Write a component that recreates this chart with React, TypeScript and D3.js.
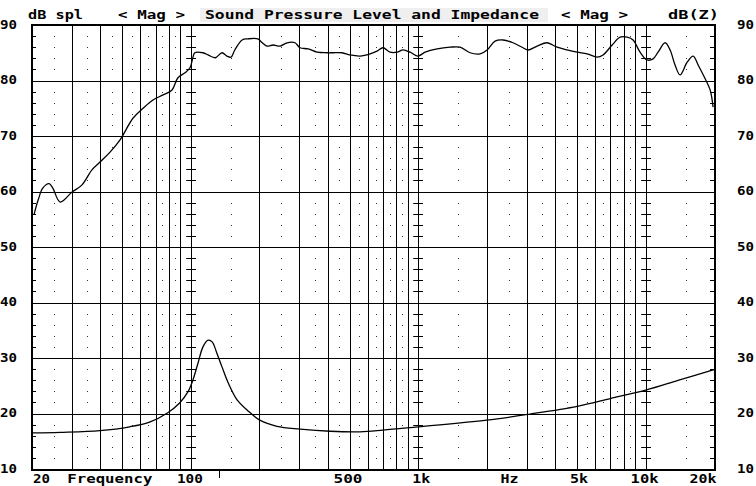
import React from "react";
import * as d3 from "d3";

const SPL_FREQ = [20.4, 21.3, 22.3, 23.8, 24.7, 26.6, 30.0, 33.2, 36.7, 39.8, 44.1, 48.8, 55.6, 61.6, 68.1, 75.4, 82.6, 87.7, 94.2, 99.1, 102, 104, 113, 119, 128, 137, 144, 150, 156, 168, 178, 197, 206, 216, 230, 247, 265, 287, 302, 328, 359, 397, 422, 462, 501, 555, 614, 659, 700, 752, 807, 857, 921, 998, 1072, 1211, 1381, 1528, 1691, 1871, 2009, 2178, 2361, 2612, 2891, 3041, 3333, 3689, 4083, 4518, 5000, 5534, 6125, 6503, 7129, 7729, 8298, 8813, 9460, 10160, 10790, 11350, 12190, 12820, 13480, 14180, 15240, 16190, 17030, 18290, 19230, 19820];
const SPL_DB = [55.8, 58.5, 60.6, 61.4, 60.6, 58.1, 59.9, 61.2, 63.9, 65.3, 67.1, 69.3, 73.2, 75.0, 76.5, 77.4, 78.3, 80.5, 81.4, 82.3, 84.1, 85.0, 85.0, 84.6, 84.1, 85.0, 84.4, 84.2, 85.5, 87.3, 87.5, 87.5, 86.8, 86.2, 86.4, 86.2, 86.8, 86.8, 85.9, 85.7, 85.1, 85.0, 85.0, 85.0, 84.6, 84.4, 84.8, 85.3, 85.9, 85.1, 85.1, 85.5, 85.1, 84.4, 85.1, 85.7, 86.0, 86.0, 85.0, 84.8, 85.5, 87.1, 87.3, 86.8, 85.9, 85.5, 86.2, 86.8, 86.0, 85.5, 85.1, 84.8, 84.2, 84.6, 86.4, 87.8, 87.8, 87.3, 85.1, 83.7, 83.9, 85.1, 86.8, 85.5, 82.8, 81.0, 83.3, 84.4, 82.8, 80.3, 78.3, 75.2];

const IMP_FREQ = [20.2, 26.6, 39.8, 53.8, 66.2, 78.8, 89.2, 97.0, 102, 107.5, 113, 119, 124, 130, 137, 146, 160, 177, 201, 239, 302, 410, 555, 700, 1000, 2000, 3100, 5000, 7000, 10000, 14000, 20000];
const IMP_DB = [16.5, 16.6, 16.9, 17.6, 18.5, 20.1, 21.9, 23.9, 26.0, 29.1, 32.0, 33.2, 32.9, 30.9, 28.4, 25.5, 22.4, 20.6, 18.8, 17.7, 17.2, 16.8, 16.7, 17.0, 17.6, 18.8, 19.9, 21.3, 22.7, 24.2, 26.0, 27.9];

const Y_TICKS = [10, 20, 30, 40, 50, 60, 70, 80, 90];
const MAJOR_FREQ = [30, 40, 50, 60, 70, 80, 90, 100, 200, 300, 400, 500, 600, 700, 800, 900, 1000, 2000, 3000, 4000, 5000, 6000, 7000, 8000, 9000, 10000];
const DECADE_FREQ = [100, 1000, 10000];
const DOT_FREQ = [25, 35, 45, 55, 65, 75, 85, 95, 150, 250, 350, 450, 550, 650, 750, 850, 950, 1500, 2500, 3500, 4500, 5500, 6500, 7500, 8500, 9500, 15000];
const BOTTOM_LABELS = ["20", "Frequency", "100", "500", "1k", "Hz", "5k", "10k", "20k"];
const BOTTOM_ANCHOR = [20, 44, 99, 491, 1030, 2520, 5100, 9900, 17900];
const MARKER_FREQ = 133;

const W = 756, H = 486;
const L = 32, R = 714, T = 25, B = 469;

export default function App() {
  const x = d3.scaleLog().domain([20, 20000]).range([L, R]);
  const y = d3.scaleLinear().domain([10, 90]).range([B, T]);
  const px = (v: number) => Math.round(v) + 0.5;

  const minor = d3.range(12, 90, 2).filter((v) => v % 10 !== 0);

  const line = d3
    .line<[number, number]>()
    .x((d) => x(d[0]))
    .y((d) => y(d[1]))
    .curve(d3.curveCatmullRom.alpha(0.5));

  const splPath = line(SPL_FREQ.map((f, i) => [f, SPL_DB[i]] as [number, number])) || "";
  const impPath = line(IMP_FREQ.map((f, i) => [f, IMP_DB[i]] as [number, number])) || "";

  const font = "'DejaVu Sans Mono', 'Liberation Mono', monospace";

  const header = [
    { t: "dB spl", x: 28, w: 55 },
    { t: "< Mag >", x: 118, w: 67 },
    { t: "Sound Pressure Level and Impedance", x: 205, w: 334 },
    { t: "< Mag >", x: 561, w: 67 },
    { t: "dB(Z)", x: 668, w: 51 },
  ];
  const bottomW = [17, 85, 26, 29, 18, 18, 18, 28, 27];

  return (
    <svg width={W} height={H} style={{ position: "absolute", left: 0, top: 0, background: "#fff" }} shapeRendering="crispEdges">
      <rect x={0} y={0} width={W} height={H} fill="#fff" />
      <rect x={200} y={8} width={348} height={14} fill="#efefef" />
      {header.map((h, i) => (
        <text key={"h" + i} x={h.x} y={19} fontFamily={font} fontWeight="bold" fontSize={12} textLength={h.w} lengthAdjust="spacingAndGlyphs" fill="#000">
          {h.t}
        </text>
      ))}
      {/* major horizontal grid */}
      {Y_TICKS.map((v) => (
        <line key={"hy" + v} x1={L} x2={R} y1={px(y(v))} y2={px(y(v))} stroke="#000" strokeWidth={1} />
      ))}
      {/* major vertical grid */}
      {MAJOR_FREQ.map((f) => (
        <line key={"vx" + f} x1={px(x(f))} x2={px(x(f))} y1={T} y2={B} stroke="#000" strokeWidth={1} />
      ))}
      {/* dotted columns */}
      {DOT_FREQ.map((f) =>
        minor.map((v) => (
          <rect key={"d" + f + "_" + v} x={Math.round(x(f))} y={Math.round(y(v))} width={1} height={1} fill="#333" />
        ))
      )}
      {/* decade cross ticks */}
      {DECADE_FREQ.map((f) =>
        minor.map((v) => (
          <line key={"c" + f + "_" + v} x1={Math.round(x(f)) - 4} x2={Math.round(x(f)) + 5} y1={px(y(v))} y2={px(y(v))} stroke="#000" strokeWidth={1} />
        ))
      )}
      {/* border ticks */}
      {minor.map((v) => (
        <g key={"bt" + v}>
          <line x1={L} x2={L + 4} y1={px(y(v))} y2={px(y(v))} stroke="#000" strokeWidth={1} />
          <line x1={R - 4} x2={R} y1={px(y(v))} y2={px(y(v))} stroke="#000" strokeWidth={1} />
        </g>
      ))}
      {/* curves */}
      <g shapeRendering="auto">
        <path d={splPath} fill="none" stroke="#000" strokeWidth={1.3} />
        <path d={impPath} fill="none" stroke="#000" strokeWidth={1.3} />
      </g>
      {/* frame */}
      <rect x={L - 0.5} y={T - 0.5} width={R - L + 1} height={B - T + 1} fill="none" stroke="#000" strokeWidth={2} />
      {/* marker tick */}
      <line x1={px(x(MARKER_FREQ))} x2={px(x(MARKER_FREQ))} y1={B + 2} y2={B + 9} stroke="#000" strokeWidth={1} />
      {/* y labels */}
      {Y_TICKS.map((v) => (
        <g key={"yl" + v}>
          <text x={0} y={y(v) + 3.5} fontFamily={font} fontWeight="bold" fontSize={12} textLength={17} lengthAdjust="spacingAndGlyphs" fill="#000">
            {v}
          </text>
          <text x={737} y={y(v) + 3.5} fontFamily={font} fontWeight="bold" fontSize={12} textLength={17} lengthAdjust="spacingAndGlyphs" fill="#000">
            {v}
          </text>
        </g>
      ))}
      {/* bottom labels */}
      {BOTTOM_LABELS.map((t, i) => {
        const w = bottomW[i];
        const cx = i === 0 ? x(BOTTOM_ANCHOR[i]) + 1 + w / 2 : x(BOTTOM_ANCHOR[i]);
        return (
          <text key={"bl" + i} x={cx - w / 2} y={483} fontFamily={font} fontWeight="bold" fontSize={12} textLength={w} lengthAdjust="spacingAndGlyphs" fill="#000">
            {t}
          </text>
        );
      })}
    </svg>
  );
}
